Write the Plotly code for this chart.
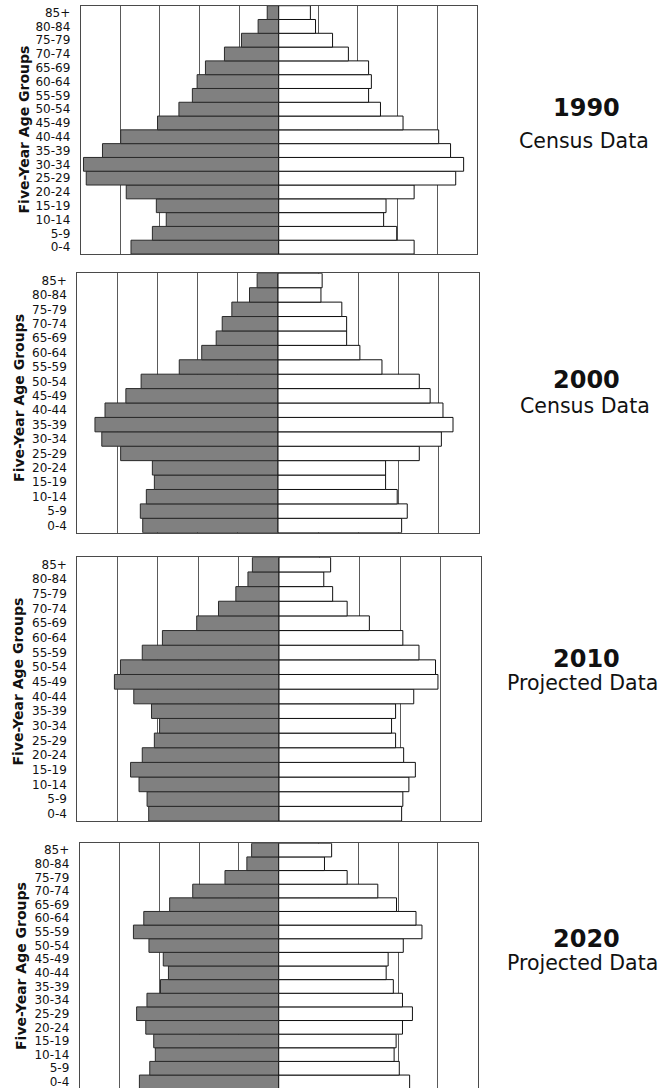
import plotly.graph_objects as go

W, H = 663, 1088

age_groups = ["0-4", "5-9", "10-14", "15-19", "20-24", "25-29", "30-34", "35-39",
              "40-44", "45-49", "50-54", "55-59", "60-64", "65-69", "70-74", "75-79",
              "80-84", "85+"]

years = ["1990", "2000", "2010", "2020"]
subtitles = ["Census Data", "Census Data", "Projected Data", "Projected Data"]

# left (gray) side values, listed from 0-4 up to 85+
left_1990 = [3.73, 3.19, 2.84, 3.09, 3.85, 4.86, 4.93, 4.45, 3.99, 3.06, 2.52, 2.18, 2.06, 1.85, 1.37, 0.94, 0.52, 0.29]
right_1990 = [3.42, 2.98, 2.65, 2.71, 3.42, 4.47, 4.67, 4.34, 4.04, 3.14, 2.57, 2.27, 2.34, 2.27, 1.76, 1.36, 0.93, 0.80]

left_2000 = [3.37, 3.43, 3.28, 3.08, 3.13, 3.92, 4.39, 4.56, 4.31, 3.79, 3.41, 2.46, 1.90, 1.54, 1.39, 1.15, 0.71, 0.52]
right_2000 = [3.08, 3.22, 2.97, 2.68, 2.68, 3.52, 4.07, 4.36, 4.11, 3.79, 3.52, 2.59, 2.04, 1.71, 1.71, 1.59, 1.07, 1.10]

left_2010 = [3.23, 3.27, 3.47, 3.68, 3.39, 3.09, 2.96, 3.16, 3.60, 4.08, 3.93, 3.39, 2.89, 2.04, 1.50, 1.07, 0.77, 0.66]
right_2010 = [3.04, 3.07, 3.22, 3.38, 3.09, 2.89, 2.79, 2.89, 3.34, 3.94, 3.88, 3.47, 3.07, 2.24, 1.69, 1.33, 1.11, 1.28]

left_2020 = [3.50, 3.24, 3.10, 3.14, 3.34, 3.57, 3.31, 2.97, 2.77, 2.90, 3.26, 3.65, 3.39, 2.74, 2.16, 1.35, 0.80, 0.68]
right_2020 = [3.29, 3.03, 2.90, 2.95, 3.11, 3.36, 3.11, 2.88, 2.70, 2.75, 3.13, 3.60, 3.45, 2.96, 2.49, 1.72, 1.15, 1.33]

lefts = [left_1990, left_2000, left_2010, left_2020]
rights = [right_1990, right_2000, right_2010, right_2020]

# panel pixel boxes: (x0, x1, y0_top, y1_bottom)
panels = [(80.7, 476.7, 5.7, 254.0),
          (77.3, 478.7, 273.3, 532.7),
          (77.3, 480.7, 557.3, 821.0),
          (79.7, 477.7, 843.3, 1088.0)]
year_pos = [(586, 108.4), (586, 380.1), (586, 659.1), (586, 939.0)]
sub_pos = [(584, 141.3), (584.7, 406.2), (582.7, 683.0), (582.7, 963.0)]
ytitle_x = [23.6, 18.3, 18.0, 20.3]

FONT = "DejaVu Sans"

fig = go.Figure()
layout = dict(width=W, height=H, margin=dict(l=0, r=0, t=0, b=0),
              paper_bgcolor="white", plot_bgcolor="white", showlegend=False,
              barmode="relative", bargap=0, annotations=[])

for i in range(4):
    n = "" if i == 0 else str(i + 1)
    xa, ya = "x" + n, "y" + n
    fig.add_trace(go.Bar(y=age_groups, x=[-v for v in lefts[i]], orientation="h",
                         marker=dict(color="#808080", line=dict(color="#2a2a2a", width=1)),
                         xaxis=xa, yaxis=ya, hoverinfo="skip"))
    fig.add_trace(go.Bar(y=age_groups, x=rights[i], orientation="h",
                         marker=dict(color="white", line=dict(color="#111111", width=1)),
                         xaxis=xa, yaxis=ya, hoverinfo="skip"))
    x0, x1, yt, yb = panels[i]
    last = (i == 3)
    layout["xaxis" + n] = dict(domain=[x0 / W, x1 / W], anchor=ya, range=[-5, 5],
                               dtick=1, tick0=0, showgrid=True, gridcolor="#5a5a5a",
                               gridwidth=1, zeroline=False, showticklabels=False,
                               ticks="", showline=True, linecolor="#4a4a4a", linewidth=1,
                               mirror=(not last), side=("top" if last else "bottom"),
                               fixedrange=True)
    layout["yaxis" + n] = dict(domain=[1 - yb / H, 1 - yt / H], anchor=xa,
                               range=[-0.45 if last else -0.5, 17.5],
                               type="category", showgrid=False, zeroline=False,
                               tickmode="array", tickvals=age_groups, ticktext=age_groups,
                               ticks="", ticklabelstandoff=7,
                               tickfont=dict(family=FONT, size=12, color="#111"),
                               showline=True, linecolor="#4a4a4a", linewidth=1,
                               mirror=True, fixedrange=True)
    layout["annotations"].append(dict(
        text="<b>Five-Year Age Groups</b>", textangle=-90, xref="paper", yref="paper",
        x=ytitle_x[i] / W, y=1 - (yt + min(yb, yt + 248.6)) / 2 / H,
        xanchor="center", yanchor="middle", showarrow=False,
        font=dict(family=FONT, size=14, color="#111")))
    layout["annotations"].append(dict(
        text="<b>" + years[i] + "</b>", xref="paper", yref="paper",
        x=year_pos[i][0] / W, y=1 - year_pos[i][1] / H, xanchor="center", yanchor="middle",
        showarrow=False, font=dict(family=FONT, size=24, color="#111")))
    layout["annotations"].append(dict(
        text=subtitles[i], xref="paper", yref="paper",
        x=sub_pos[i][0] / W, y=1 - sub_pos[i][1] / H, xanchor="center", yanchor="middle",
        showarrow=False, font=dict(family=FONT, size=20.5, color="#111")))

fig.update_layout(**layout)
fig.write_html("out.html", config={"displayModeBar": False, "staticPlot": True},
               post_script="document.body.style.margin='0';document.body.style.overflow='hidden';")
